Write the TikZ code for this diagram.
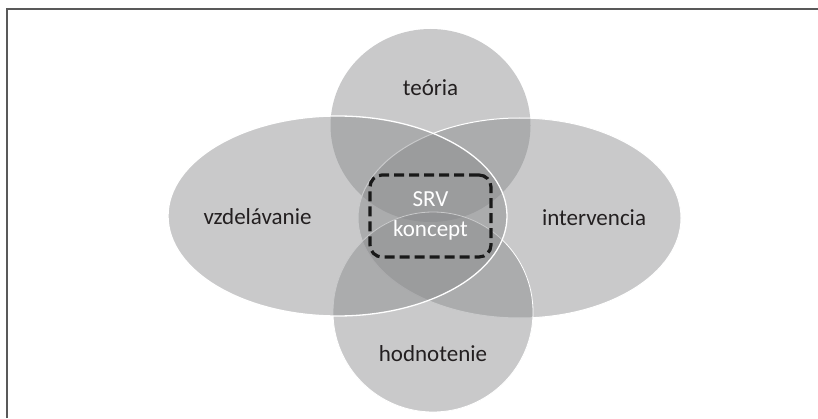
\documentclass[tikz,border=0pt]{standalone}
\usepackage{fontspec}
\setmainfont{Carlito}
\usepackage{tikz}
\usetikzlibrary{positioning}
\usetikzlibrary{shapes.geometric}
\definecolor{areagray}{RGB}{135,136,138}
\definecolor{textgray}{RGB}{35,31,32}
\tikzstyle{every node}+=[inner sep=0pt, outer sep=0pt]
\tikzstyle{area} = [ellipse, fill=areagray, fill opacity=0.45, draw=white, line width=1.2pt]
\tikzstyle{word} = [font=\fontsize{23}{30}\selectfont, text=textgray]
\tikzstyle{core} = [rectangle, draw=black!90, line width=3.2pt, dash pattern=on 10pt off 5pt, rounded corners=12pt, minimum width=121pt, minimum height=82pt, text=white, align=center, font=\fontsize{23}{30}\selectfont]
\tikzstyle{frame} = [draw=black!65, line width=1.3pt]

\begin{document}
\begin{tikzpicture}[x=1pt, y=1pt, node distance=90pt]
            \useasboundingbox (0,0) rectangle (818,418);
            % Frame
            \draw [frame] (7,0) -- (7,409) -- (818,409);
            % Place nodes
            \coordinate (mid) at (430.5,202);
            \node [area, draw=none, minimum width=200pt, minimum height=193pt, above of=mid, node distance=90.5pt] (teoria) {};
            \node [area, minimum width=323pt, minimum height=200pt, right of=mid, node distance=89pt, yshift=-2pt, line width=1pt] (intervencia) {};
            \node [area, minimum width=200pt, minimum height=200pt, below of=mid, node distance=96pt, xshift=2.5pt, line width=0.8pt] (hodnotenie) {};
            \node [area, minimum width=339pt, minimum height=200pt, left of=mid, node distance=93pt, line width=1.3pt] (vzdelavanie) {};
            \node [core] at (mid) (srv) {SRV\\koncept};
            % Place labels
            \node [word, above of=teoria, node distance=37.5pt] (t1) {teória};
            \node [word, right of=intervencia, node distance=74.5pt] (t2) {intervencia};
            \node [word, below of=hodnotenie, node distance=42pt] (t3) {hodnotenie};
            \node [word, left of=vzdelavanie, node distance=80pt, yshift=-1pt] (t4) {vzdelávanie};
          \end{tikzpicture}
\end{document}
